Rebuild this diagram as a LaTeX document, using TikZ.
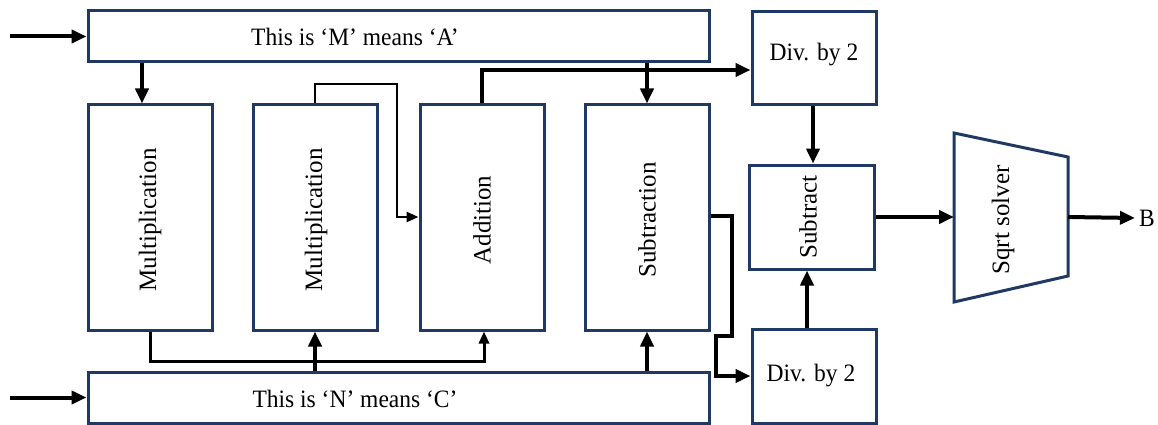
\documentclass[tikz,border=0pt]{standalone}
\usepackage{fontspec}
\setmainfont{Liberation Serif}
\usetikzlibrary{arrows.meta,calc}
\definecolor{navy}{HTML}{1F3864}
\newcommand{\hs}[1]{\scalebox{0.94}[1]{#1}}
\begin{document}
\begin{tikzpicture}[x=1pt,y=-1pt,
  box/.style={draw=navy,line width=3pt,fill=white,inner sep=0pt},
  lbl/.style={inner sep=0pt,font=\fontsize{25}{30}\selectfont},
  arr/.style={line width=4pt,-{Triangle[length=15pt,width=13pt]}},
  tarr/.style={line width=2.6pt,-{Triangle[length=12pt,width=10pt]}},
  tline/.style={line width=3pt},
]
\useasboundingbox (0,0) rectangle (1158,425);
% boxes
\node[box,minimum width=621,minimum height=51] (M) at (398.5,36.5) {};
\node[box,minimum width=621,minimum height=51] (N) at (398.5,397.5) {};
\node[box,minimum width=124,minimum height=225] (Mul1) at (150,217.5) {};
\node[box,minimum width=124,minimum height=225] (Mul2) at (315,217.5) {};
\node[box,minimum width=124,minimum height=225] (Add) at (482,217.5) {};
\node[box,minimum width=124,minimum height=225] (Sub) at (647,217.5) {};
\node[box,minimum width=124,minimum height=93] (DivT) at (814,58.5) {};
\node[box,minimum width=125,minimum height=104] (Subt) at (811.5,217) {};
\node[box,minimum width=124,minimum height=94] (DivB) at (814,376) {};
\draw[draw=navy,line width=3pt,line join=miter] (954,133) -- (1068,157) -- (1068,276) -- (954,302) -- cycle;
\coordinate (sqW) at (954,217);
\coordinate (sqE) at (1068,217);
% texts
\node[lbl] (Mtxt) at (355,37) {\hs{This is ‘M’ means ‘A’}};
\node[lbl] (Ntxt) at (355,399) {\hs{This is ‘N’ means ‘C’}};
\node[lbl,rotate=90] (Mul1txt) at (150,220) {Multiplication};
\node[lbl,rotate=90] (Mul2txt) at (316,220) {Multiplication};
\node[lbl,rotate=90] (Addtxt) at (482,220) {Addition};
\node[lbl,rotate=90] (Subtxt) at (647,220) {Subtraction};
\node[lbl] (DivTtxt) at (814,55) {\hs{Div. by 2}};
\node[lbl] (DivBtxt) at (811,376) {\hs{Div. by 2}};
\node[lbl,rotate=90] (Subttxt) at (808,217) {Subtract};
\node[lbl,rotate=90] (Sqtxt) at (1003,220) {Sqrt solver};
\node[lbl] (B) at (1147,218) {\hs{B}};
% inputs
\coordinate (inM) at (10,36.5);
\coordinate (inN) at (10,397.5);
\draw[arr] (inM) -- (M.west);
\draw[arr] (inN) -- (N.west);
% M to Mul1 and Sub
\coordinate (c1) at (142,0);
\draw[arr] (M.south -| c1) -- (Mul1.north -| c1);
\draw[arr] (M.south -| Sub.north) -- (Sub.north);
% Mul2 loop
\coordinate (k1) at (397,84);
\coordinate (k2) at (397,217);
\draw[tarr] (Mul2.north) |- (k1) -- (k2) -- (Add.west |- k2);
% Addition to DivT
\coordinate (k3) at (752,70);
\draw[arr] (Add.north) |- (DivT.west |- k3);
% Subtraction to DivB
\coordinate (k4) at (732,216);
\coordinate (k5) at (732,336);
\coordinate (k6) at (716,336);
\draw[arr] (Sub.east |- k4) -- (k4) -- (k5) -- (k6) |- (DivB.west);
% DivT to Subtract, DivB to Subtract
\coordinate (c2) at (813,0);
\coordinate (c3) at (807,0);
\draw[arr] (DivT.south -| c2) -- (Subt.north -| c2);
\draw[arr] (DivB.north -| c3) -- (Subt.south -| c3);
% Subtract to sqrt, sqrt to B
\draw[arr] (Subt.east) -- (sqW);
\draw[arr] (sqE) -- ([xshift=-4pt]B.west);
% bottom connections
\coordinate (k7) at (484,361);
\draw[tline,-{Triangle[length=12pt,width=10pt]}] (Mul1.south) |- (k7) -- (k7 |- Add.south);
\draw[arr] (N.north -| Mul2.south) -- (Mul2.south);
\draw[arr] (N.north -| Sub.south) -- (Sub.south);
\end{tikzpicture}
\end{document}
